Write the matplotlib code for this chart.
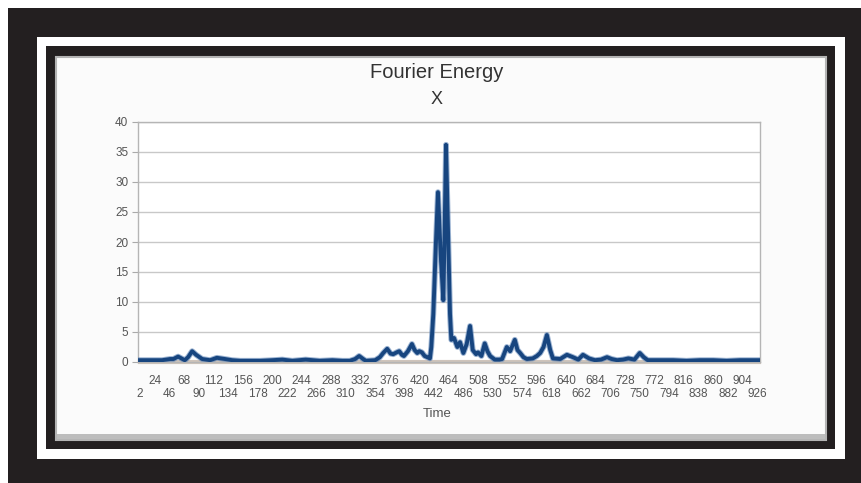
import matplotlib
matplotlib.use("Agg")
import matplotlib.pyplot as plt
from matplotlib.patches import Rectangle

plt.rcParams['font.family'] = ['Liberation Sans', 'DejaVu Sans']

# values (time index, energy)
time_pts = [2, 20, 35, 47, 52, 59, 64, 69, 74, 80, 86, 95, 107, 117, 129, 140, 152,
            170, 182, 200, 215, 230, 250, 271, 290, 305, 316, 324, 330, 336, 340,
            354, 361, 366, 372, 377, 381, 386, 390, 394, 397, 403, 409, 413, 417,
            420, 424, 428, 432, 436, 438, 441, 445, 448, 452, 456, 458, 460, 463,
            466, 468, 472, 477, 481, 486, 491, 496, 500, 505, 508, 513, 518, 522,
            526, 533, 540, 544, 551, 556, 563, 567, 571, 576, 581, 590, 596, 601,
            606, 611, 616, 620, 631, 641, 650, 658, 665, 674, 683, 692, 701, 708,
            716, 725, 733, 742, 750, 756, 762, 780, 800, 820, 840, 860, 880, 900, 915, 928]
energy = [0.3, 0.3, 0.3, 0.5, 0.5, 0.9, 0.6, 0.3, 0.8, 1.8, 1.2, 0.5, 0.3, 0.7, 0.5, 0.3, 0.2,
          0.2, 0.2, 0.3, 0.4, 0.2, 0.4, 0.2, 0.3, 0.2, 0.2, 0.5, 1.0, 0.5, 0.2,
          0.3, 0.8, 1.5, 2.2, 1.4, 1.3, 1.6, 1.8, 1.2, 1.0, 1.8, 3.0, 2.0, 1.5,
          1.8, 1.6, 1.0, 0.8, 0.6, 2.5, 8.0, 20.0, 28.3, 18.0, 10.3, 22.0, 36.2, 22.0,
          8.0, 3.7, 4.0, 2.5, 3.3, 1.5, 3.0, 6.0, 2.0, 1.3, 1.6, 1.0, 3.1, 1.8,
          1.0, 0.4, 0.4, 0.5, 2.5, 1.8, 3.7, 2.0, 1.5, 0.8, 0.5, 0.6, 1.0, 1.5,
          2.5, 4.5, 2.0, 0.6, 0.5, 1.2, 0.8, 0.4, 1.2, 0.6, 0.3, 0.4, 0.8, 0.5,
          0.3, 0.4, 0.6, 0.4, 1.5, 0.8, 0.3, 0.3, 0.3, 0.2, 0.3, 0.3, 0.2, 0.3, 0.3, 0.3]

floor_pts = [2, 928]
floor_vals = [0, 0]

upper_ticks = list(range(24, 927, 44))   # 24, 68, ... 904
lower_ticks = list(range(2, 927, 44))    # 2, 46, ... 926
y_ticks = [0, 5, 10, 15, 20, 25, 30, 35, 40]

W, H = 861, 483
fig = plt.figure(figsize=(W / 100, H / 100), dpi=100)
fig.patch.set_facecolor('white')


def box(x0, y0, x1, y1, **kw):
    # pixel box measured from top-left corner
    fig.patches.append(Rectangle((x0 / W, 1 - y1 / H), (x1 - x0) / W, (y1 - y0) / H,
                                 transform=fig.transFigure, figure=fig, zorder=-10, **kw))


box(8, 8, 861, 483, facecolor='#231f20', edgecolor='none')
box(37, 37, 845, 459, facecolor='white', edgecolor='none')
box(46, 46, 835, 449, facecolor='#231f20', edgecolor='none')
box(56, 57, 826, 440, facecolor='#fbfbfb', edgecolor='#b4b4b4', linewidth=1.5)
box(57, 434, 825, 439, facecolor='#bdbdbd', edgecolor='none')

ax = fig.add_axes([138 / W, 1 - 362 / H, (760 - 138) / W, (362 - 122) / H])
ax.set_facecolor('white')

ax.plot(floor_pts, floor_vals, color='#cfc4bb', linewidth=3, clip_on=False, zorder=2)
ax.plot(time_pts, energy, color='#5b82b5', linewidth=4.2, solid_joinstyle='round', alpha=0.6, zorder=3)
ax.plot(time_pts, energy, color='#17457f', linewidth=2.8, solid_joinstyle='round', zorder=4)

ax.set_xlim(-1, 930)
ax.set_ylim(0, 40)
ax.set_yticks(y_ticks)
ax.grid(axis='y', color='#c8c8c8', linewidth=1)
ax.set_axisbelow(True)

ax.set_xticks(upper_ticks)
ax.set_xticklabels([str(t) for t in upper_ticks], fontsize=8.5, color='#555555')
ax.set_xticks(lower_ticks, minor=True)
ax.set_xticklabels([str(t) for t in lower_ticks], minor=True, fontsize=8.5, color='#555555')
ax.tick_params(axis='x', which='major', length=0, pad=9)
ax.tick_params(axis='x', which='minor', length=0, pad=19)
ax.tick_params(axis='y', length=4, color='#aaaaaa', labelsize=8.5, labelcolor='#555555', pad=3)

for side in ['left', 'right', 'top', 'bottom']:
    ax.spines[side].set_color('#b5b5b5')
    ax.spines[side].set_linewidth(1)

fig.text(437 / W, 1 - 72 / H, 'Fourier Energy', ha='center', va='center', fontsize=14.5, color='#333333')
fig.text(437 / W, 1 - 99 / H, 'X', ha='center', va='center', fontsize=13, color='#333333')
fig.text(437 / W, 1 - 414 / H, 'Time', ha='center', va='center', fontsize=9.5, color='#555555')

fig.savefig('out.png', dpi=100)
